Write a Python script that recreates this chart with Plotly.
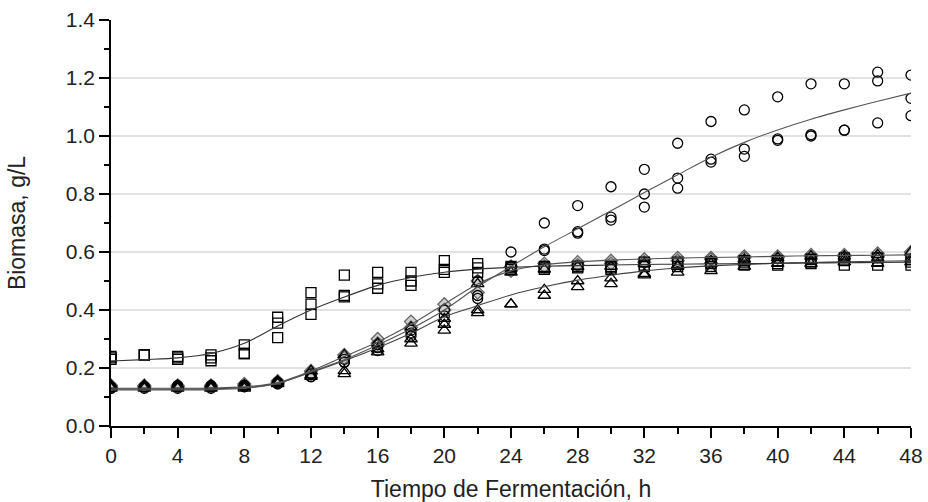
import plotly.graph_objects as go

# Time (h)
tiempo = [0, 2, 4, 6, 8, 10, 12, 14, 16, 18, 20, 22, 24, 26, 28, 30, 32, 34, 36, 38, 40, 42, 44, 46, 48]

# Squares (3 replicates)
cuad_a = [0.240, 0.245, 0.240, 0.245, 0.280, 0.375, 0.460, 0.520, 0.530, 0.530, 0.570, 0.560, 0.550, 0.550, 0.550, 0.550, 0.565, 0.565, 0.565, 0.570, 0.570, 0.575, 0.580, 0.580, 0.575]
cuad_b = [0.235, 0.245, 0.235, 0.235, 0.250, 0.355, 0.420, 0.450, 0.490, 0.500, 0.540, 0.545, 0.545, 0.545, 0.550, 0.545, 0.555, 0.560, 0.560, 0.565, 0.560, 0.565, 0.570, 0.570, 0.565]
cuad_c = [0.230, 0.245, 0.230, 0.225, 0.250, 0.305, 0.385, 0.445, 0.475, 0.485, 0.530, 0.530, 0.540, 0.540, 0.545, 0.540, 0.550, 0.550, 0.550, 0.555, 0.555, 0.560, 0.555, 0.555, 0.555]

# Circles (3 replicates)
circ_a = [0.135, 0.135, 0.140, 0.140, 0.140, 0.150, 0.180, 0.230, 0.280, 0.330, 0.400, 0.450, 0.600, 0.700, 0.760, 0.825, 0.885, 0.975, 1.050, 1.090, 1.135, 1.180, 1.180, 1.220, 1.210]
circ_b = [0.130, 0.135, 0.135, 0.135, 0.135, 0.150, 0.170, 0.220, 0.270, 0.320, 0.380, 0.500, 0.550, 0.610, 0.670, 0.720, 0.800, 0.855, 0.920, 0.955, 0.990, 1.005, 1.020, 1.190, 1.130]
circ_c = [0.130, 0.130, 0.130, 0.130, 0.140, 0.145, 0.170, 0.220, 0.260, 0.310, 0.360, 0.440, 0.550, 0.605, 0.665, 0.710, 0.755, 0.820, 0.910, 0.930, 0.985, 1.000, 1.020, 1.045, 1.070]

# Triangles (3 replicates)
tri_a = [0.140, 0.140, 0.140, 0.140, 0.140, 0.155, 0.190, 0.245, 0.285, 0.340, 0.370, 0.490, 0.530, 0.540, 0.550, 0.550, 0.560, 0.555, 0.570, 0.575, 0.580, 0.585, 0.585, 0.590, 0.600]
tri_b = [0.135, 0.135, 0.135, 0.135, 0.135, 0.150, 0.175, 0.190, 0.265, 0.300, 0.350, 0.400, 0.420, 0.470, 0.500, 0.510, 0.525, 0.550, 0.560, 0.565, 0.570, 0.570, 0.575, 0.580, 0.575]
tri_c = [0.130, 0.130, 0.130, 0.130, 0.130, 0.145, 0.170, 0.180, 0.255, 0.285, 0.330, 0.390, 0.420, 0.450, 0.480, 0.490, 0.520, 0.530, 0.535, 0.550, 0.560, 0.560, 0.565, 0.560, 0.565]

# Diamonds (2 replicates)
dia_a = [0.140, 0.140, 0.140, 0.140, 0.145, 0.155, 0.190, 0.245, 0.300, 0.360, 0.420, 0.500, 0.550, 0.560, 0.565, 0.570, 0.575, 0.580, 0.580, 0.585, 0.585, 0.590, 0.590, 0.595, 0.600]
dia_b = [0.135, 0.135, 0.135, 0.135, 0.140, 0.150, 0.180, 0.235, 0.285, 0.340, 0.400, 0.460, 0.535, 0.550, 0.555, 0.560, 0.565, 0.570, 0.575, 0.580, 0.580, 0.585, 0.585, 0.585, 0.590]

# Fitted curves
ajuste_cuad = [0.224, 0.229, 0.235, 0.250, 0.285, 0.345, 0.400, 0.445, 0.485, 0.512, 0.530, 0.541, 0.547, 0.551, 0.553, 0.555, 0.557, 0.558, 0.559, 0.560, 0.561, 0.562, 0.563, 0.564, 0.565]
ajuste_circ = [0.124, 0.124, 0.124, 0.125, 0.130, 0.147, 0.187, 0.228, 0.279, 0.335, 0.400, 0.480, 0.550, 0.618, 0.680, 0.742, 0.805, 0.866, 0.927, 0.978, 1.021, 1.058, 1.090, 1.120, 1.148]
ajuste_tri = [0.127, 0.127, 0.127, 0.128, 0.132, 0.147, 0.185, 0.225, 0.270, 0.320, 0.377, 0.415, 0.452, 0.480, 0.503, 0.520, 0.535, 0.545, 0.552, 0.557, 0.561, 0.564, 0.566, 0.568, 0.570]
ajuste_dia = [0.130, 0.130, 0.130, 0.131, 0.135, 0.150, 0.190, 0.240, 0.290, 0.350, 0.420, 0.490, 0.535, 0.556, 0.566, 0.572, 0.576, 0.579, 0.581, 0.583, 0.585, 0.587, 0.588, 0.589, 0.590]

x_ticks = [0, 4, 8, 12, 16, 20, 24, 28, 32, 36, 40, 44, 48]
y_ticks = [0.0, 0.2, 0.4, 0.6, 0.8, 1.0, 1.2, 1.4]

fig = go.Figure()

def markers(y, symbol, size, fill="rgba(255,255,255,0)", edge="black"):
    fig.add_trace(go.Scatter(
        x=tiempo, y=y, mode="markers", showlegend=False,
        marker=dict(symbol=symbol, size=size, color=fill,
                    line=dict(color=edge, width=1.3)),
    ))

for s in (dia_a, dia_b):
    markers(s, "diamond", 10, fill="#cfcfcf", edge="#666666")
for s in (tri_a, tri_b, tri_c):
    markers(s, "triangle-up", 11)
for s in (circ_a, circ_b, circ_c):
    markers(s, "circle", 10)
for s in (cuad_a, cuad_b, cuad_c):
    markers(s, "square", 10)

for s, c in ((ajuste_dia, "#555555"), (ajuste_tri, "#444444"), (ajuste_circ, "#555555"), (ajuste_cuad, "#333333")):
    fig.add_trace(go.Scatter(
        x=tiempo, y=s, mode="lines", showlegend=False,
        line=dict(color=c, width=1.1, shape="spline", smoothing=0.8),
    ))

font = "Liberation Sans, Arial, sans-serif"
fig.update_layout(
    width=928, height=502,
    margin=dict(l=111, r=17, t=20, b=76),
    paper_bgcolor="white", plot_bgcolor="white",
    font=dict(family=font, color="#222222"),
    xaxis=dict(
        range=[0, 48], tickvals=x_ticks, ticktext=[str(v) for v in x_ticks],
        showgrid=False, zeroline=False, automargin=False,
        showline=True, linecolor="black", linewidth=1.5,
        ticks="outside", ticklen=10, tickwidth=1.5, tickcolor="black",
        tickfont=dict(size=21, family=font),
        minor=dict(dtick=2, ticks="outside", ticklen=6, tickwidth=1.5, tickcolor="black", showgrid=False),
        title=dict(text="Tiempo de Fermentación, h", font=dict(size=23, family=font), standoff=16),
    ),
    yaxis=dict(
        range=[0, 1.4], tickvals=y_ticks, ticktext=[f"{v:.1f}" for v in y_ticks],
        showgrid=True, gridcolor="#e2e2e2", gridwidth=1.5, zeroline=False, automargin=False,
        showline=True, linecolor="black", linewidth=1.5,
        ticks="outside", ticklen=10, tickwidth=1.5, tickcolor="black",
        tickfont=dict(size=21, family=font),
        minor=dict(dtick=0.1, ticks="outside", ticklen=5, tickwidth=1.5, tickcolor="black", showgrid=False),
        title=dict(text="Biomasa, g/L", font=dict(size=23, family=font), standoff=34),
    ),
)

fig.write_html("out.html")
